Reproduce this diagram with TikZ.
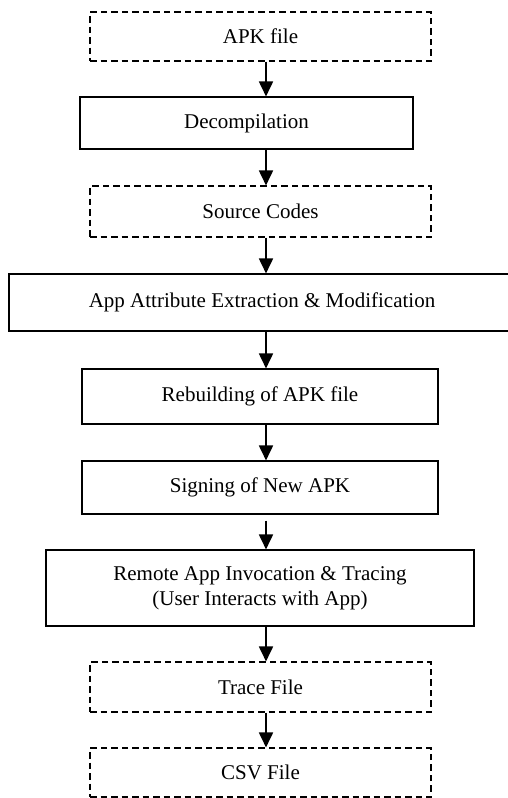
\documentclass[tikz,border=0pt]{standalone}
\usepackage{fontspec}
\setmainfont{Liberation Serif}
\usetikzlibrary{arrows.meta}
\begin{document}
\begin{tikzpicture}[x=1pt,y=-1pt,
  base/.style={draw=black,line width=1.1pt,inner sep=0pt,align=center,
    font=\fontsize{21}{25}\selectfont},
  solidbox/.style={base},
  dashbox/.style={base,dash pattern=on 6.5pt off 4pt},
  arr/.style={line width=1.8pt,-{Triangle[length=15pt,width=14pt]}}]
\useasboundingbox (0,0) rectangle (507,798);
\node[dashbox,minimum width=341pt,minimum height=49pt] (apk) at (260.5,36.5) {APK file};
\node[solidbox,minimum width=333pt,minimum height=52pt] (dec) at (246.5,123) {Decompilation};
\node[dashbox,minimum width=341pt,minimum height=51pt] (src) at (260.5,211.5) {Source Codes};
\node[solidbox,minimum width=506pt,minimum height=57pt] (attr) at (262,302.5) {App Attribute Extraction \& Modification};
\node[solidbox,minimum width=356pt,minimum height=55pt] (reb) at (260,396.5) {Rebuilding of APK file};
\node[solidbox,minimum width=356pt,minimum height=53pt] (sig) at (260,487.5) {Signing of New APK};
\node[solidbox,minimum width=428pt,minimum height=76pt] (rem) at (260,588) {Remote App Invocation \& Tracing\\(User Interacts with App)};
\node[dashbox,minimum width=341pt,minimum height=50pt] (trace) at (260.5,687) {Trace File};
\node[dashbox,minimum width=341pt,minimum height=49pt] (csv) at (260.5,772.5) {CSV File};
\coordinate (ax) at (266,0);
\draw[arr] (apk.south -| ax) -- (dec.north -| ax);
\draw[arr] (dec.south -| ax) -- (src.north -| ax);
\draw[arr] (src.south -| ax) -- (attr.north -| ax);
\draw[arr] (attr.south -| ax) -- (reb.north -| ax);
\draw[arr] (reb.south -| ax) -- (sig.north -| ax);
\draw[arr,shorten <=6pt] (sig.south -| ax) -- (rem.north -| ax);
\draw[arr] (rem.south -| ax) -- (trace.north -| ax);
\draw[arr] (trace.south -| ax) -- (csv.north -| ax);
\end{tikzpicture}
\end{document}
